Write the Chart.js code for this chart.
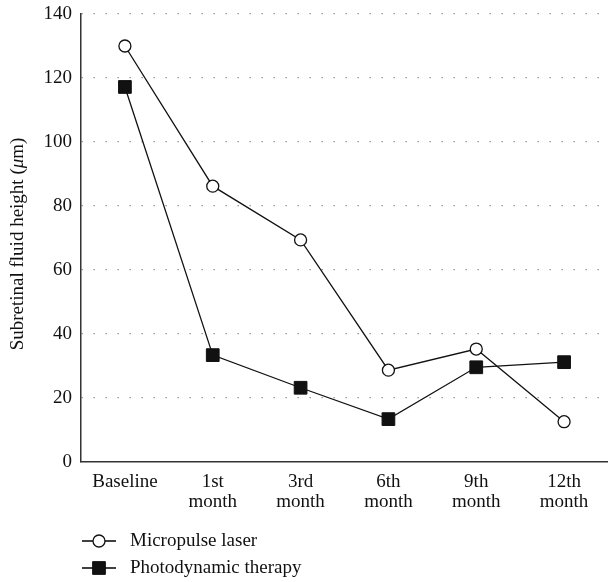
<!DOCTYPE html>
<html>
<head>
<meta charset="utf-8">
<script src="https://cdn.jsdelivr.net/npm/chart.js@4/dist/chart.umd.min.js"></script>
<style>
  html, body { margin: 0; padding: 0; background: #fff; overflow: hidden; }
  #wrap { width: 608px; height: 582px; }
</style>
</head>
<body>
<div id="wrap"><canvas id="chart"></canvas></div>
<script>
const categories = ["Baseline", ["1st", "month"], ["3rd", "month"], ["6th", "month"], ["9th", "month"], ["12th", "month"]]
const micropulse = [130, 86.2, 69.4, 28.7, 35.3, 12.6]
const photodynamic = [117.2, 33.4, 23.2, 13.4, 29.6, 31.2]
const series_names = ["Micropulse laser", "Photodynamic therapy"]
const y_ticks = [0, 20, 40, 60, 80, 100, 120, 140]

const FONT = "'Liberation Serif', 'Times New Roman', serif"

// legend at the bottom, line through marker like the original
const bottom_legend = {
  id: "bottom_legend",
  afterDraw(chart) {
    let ctx = chart.ctx
    ctx.save()
    chart.data.datasets.forEach((ds, i) => {
      let y = 541 + i * 27
      ctx.strokeStyle = "#000"
      ctx.lineWidth = 1.3
      ctx.beginPath()
      ctx.moveTo(82, y)
      ctx.lineTo(116, y)
      ctx.stroke()
      ctx.fillStyle = ds.pointBackgroundColor
      ctx.strokeStyle = ds.pointBorderColor
      ctx.lineWidth = ds.pointBorderWidth
      ctx.beginPath()
      if (ds.pointStyle == "circle") {
        ctx.arc(99, y, ds.pointRadius, 0, Math.PI * 2)
      } else {
        let s = Math.SQRT1_2 * ds.pointRadius
        ctx.rect(99 - s, y - s, 2 * s, 2 * s)
      }
      ctx.fill()
      ctx.stroke()
      ctx.fillStyle = "#111"
      ctx.font = "19px " + FONT
      ctx.textBaseline = "middle"
      ctx.fillText(ds.label, 130, y)
    })
    ctx.restore()
  }
}

// y title with italic mu
const y_title = {
  id: "y_title",
  afterDraw(chart) {
    let ctx = chart.ctx
    let area = chart.chartArea
    let parts = [["Subretinal fluid height (", ""], ["μ", "italic "], ["m)", ""]]
    ctx.save()
    ctx.translate(18, (area.top + area.bottom) / 2 + 6)
    ctx.rotate(-Math.PI / 2)
    ctx.fillStyle = "#111"
    ctx.textBaseline = "middle"
    let total = 0
    parts.forEach(p => { ctx.font = p[1] + "19px " + FONT; total += ctx.measureText(p[0]).width })
    let x = -total / 2
    parts.forEach(p => {
      ctx.font = p[1] + "19px " + FONT
      ctx.fillText(p[0], x, 0)
      x += ctx.measureText(p[0]).width
    })
    ctx.restore()
  }
}

new Chart(document.getElementById("chart"), {
  type: "line",
  data: {
    labels: categories,
    datasets: [
      {
        label: series_names[0],
        data: micropulse,
        borderColor: "#111",
        borderWidth: 1.3,
        pointStyle: "circle",
        pointRadius: 6,
        pointBackgroundColor: "#fff",
        pointBorderColor: "#111",
        pointBorderWidth: 1.3,
        tension: 0,
        clip: false
      },
      {
        label: series_names[1],
        data: photodynamic,
        borderColor: "#111",
        borderWidth: 1.3,
        pointStyle: "rect",
        pointRadius: 9,
        pointBackgroundColor: "#111",
        pointBorderColor: "#111",
        pointBorderWidth: 1,
        tension: 0,
        clip: false
      }
    ]
  },
  options: {
    responsive: true,
    maintainAspectRatio: false,
    animation: false,
    layout: { autoPadding: false, padding: { top: 14, right: 0, bottom: 70, left: 0 } },
    plugins: {
      legend: { display: false },
      tooltip: { enabled: false }
    },
    scales: {
      x: {
        offset: true,
        grid: { display: false, drawTicks: false },
        border: { display: true, color: "#333", width: 1.5 },
        ticks: { color: "#111", font: { family: FONT, size: 19, lineHeight: 1.05 }, padding: 10, maxRotation: 0, autoSkip: false },
        afterFit: axis => { axis.height = 50; axis.paddingLeft = 0; axis.paddingRight = 0 }
      },
      y: {
        min: 0,
        max: 140,
        afterBuildTicks: axis => { axis.ticks = y_ticks.map(v => ({ value: v })) },
        grid: {
          color: ctx => ctx.tick.value == 0 ? "rgba(0,0,0,0)" : "#888",
          lineWidth: 1.3,
          drawTicks: false
        },
        border: { display: true, color: "#333", width: 1.5, dash: [1.3, 10.7] },
        ticks: { color: "#111", font: { family: FONT, size: 19 }, padding: 9 },
        afterFit: axis => { axis.width = 81; axis.paddingTop = 0; axis.paddingBottom = 0 }
      }
    }
  },
  plugins: [bottom_legend, y_title]
})
</script>
</body>
</html>
